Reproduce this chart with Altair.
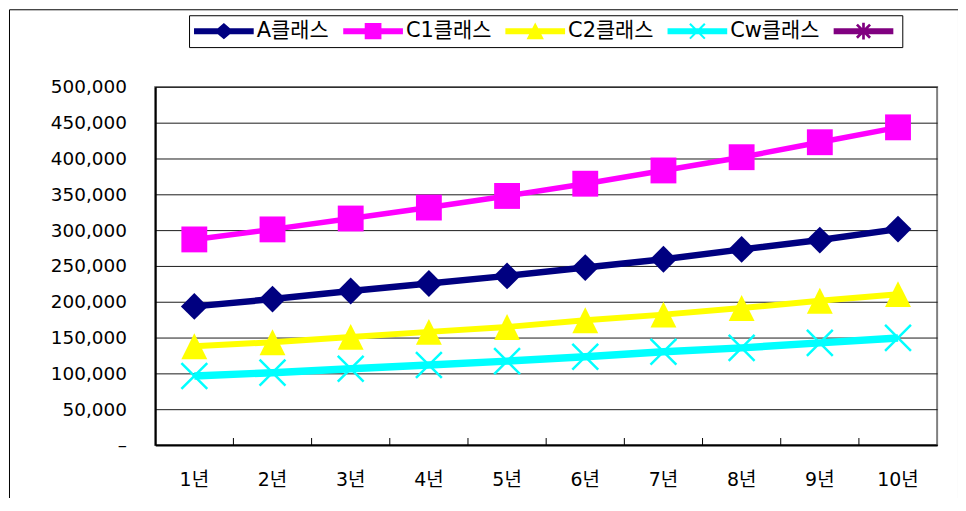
import altair as alt
import pandas as pd

# ---- data ----
years = ["1년", "2년", "3년", "4년", "5년", "6년", "7년", "8년", "9년", "10년"]
series_names = ["A클래스", "C1클래스", "C2클래스", "Cw클래스", "계열5"]
a_class = [193500, 203700, 215000, 225400, 236100, 247700, 259300, 273100, 286100, 301400]
c1_class = [287000, 301000, 316200, 331500, 347700, 364800, 383300, 401800, 422700, 443500]
c2_class = [137900, 143500, 150900, 157900, 164800, 174100, 182000, 191200, 201400, 210600]
cw_class = [96300, 101000, 106500, 111600, 117100, 123200, 130100, 135600, 142600, 149500]
y_ticks = [0, 50000, 100000, 150000, 200000, 250000, 300000, 350000, 400000, 450000, 500000]

values = {"A클래스": a_class, "C1클래스": c1_class, "C2클래스": c2_class, "Cw클래스": cw_class}
rows = []
for name, vals in values.items():
    for yr, v in zip(years, vals):
        rows.append({"year": yr, "series": name, "value": v})
df = pd.DataFrame(rows)

# ---- styling ----
colors = ["#000080", "#FF00FF", "#FFFF00", "#00FFFF", "#800080"]
line_widths = {"A클래스": 6.5, "C1클래스": 5.5, "C2클래스": 6, "Cw클래스": 7.5}
W, H = 786, 360
STEP = W / len(years)
FONT = "DejaVu Sans, Noto Sans CJK KR"

def rect(x0, y0, x1, y1):
    return f"M{x0},{y0}L{x1},{y0}L{x1},{y1}L{x0},{y1}Z"

def xarms(e, d):
    c = 0.70710678
    L = e / c
    p, m = c * (L + d), c * (L - d)
    a1 = f"M{-m:.3f},{-p:.3f}L{p:.3f},{m:.3f}L{m:.3f},{p:.3f}L{-p:.3f},{-m:.3f}Z"
    a2 = f"M{-p:.3f},{m:.3f}L{m:.3f},{-p:.3f}L{p:.3f},{-m:.3f}L{-m:.3f},{p:.3f}Z"
    return a1 + a2

base_line = rect(-1, -0.1, 1, 0.1)
legend_paths = [
    base_line + "M0,-0.27L0.32,0L0,0.27L-0.32,0Z",
    base_line + rect(-0.28, -0.27, 0.28, 0.27),
    base_line + "M0,-0.29L0.29,0.27L-0.29,0.27Z",
    base_line + xarms(0.25, 0.035),
    base_line + xarms(0.22, 0.045) + rect(-0.045, -0.28, 0.045, 0.28),
]

x_axis = alt.Axis(title=None, labelAngle=0, ticks=False, tickSize=0,
                  domainColor="#000", domainWidth=2, labelPadding=26,
                  labelFont=FONT, labelFontSize=19, labelColor="#000")
x_scale = alt.Scale(type="band", paddingInner=0, paddingOuter=0)
x_enc = alt.X("year:N", sort=years, scale=x_scale, axis=x_axis)
y_enc = alt.Y("value:Q",
              scale=alt.Scale(domain=[0, 500000], nice=False),
              axis=alt.Axis(title=None, values=y_ticks, ticks=False, tickSize=0,
                            domainColor="#000", domainWidth=2, labelPadding=29,
                            grid=True, gridColor="#1a1a1a", gridWidth=1,
                            labelFont="DejaVu Sans", labelFontSize=18.5, labelColor="#000",
                            labelExpr="datum.value == 0 ? '–' : format(datum.value, ',')"))

base = alt.Chart(df)

layers = []
for name in series_names[:4]:
    i = series_names.index(name)
    layers.append(base.transform_filter(alt.datum.series == name).mark_line(
        color=colors[i], strokeWidth=line_widths[name], strokeJoin="round").encode(x=x_enc, y=y_enc))

marker_specs = {
    "A클래스": dict(shape="diamond", size=729, filled=True),
    "C1클래스": dict(shape="square", size=676, filled=True),
    "C2클래스": dict(shape="M0,-1L1,1L-1,1Z", size=676, filled=True),
    "Cw클래스": dict(shape="M-1,-1L1,1M-1,1L1,-1", size=676, filled=False, strokeWidth=2.5),
}
for name in series_names[:4]:
    i = series_names.index(name)
    spec = marker_specs[name]
    layers.append(base.transform_filter(alt.datum.series == name).mark_point(
        color=colors[i], opacity=1, **spec).encode(x=x_enc, y=y_enc))

# inward category ticks on the x axis (at boundaries between categories)
ticks = alt.Chart(pd.DataFrame({"year": years[1:]})).mark_rule(
    color="#000", strokeWidth=1, xOffset=-STEP / 2).encode(
    x=x_enc, y=alt.value(H - 7), y2=alt.value(H))
layers.append(ticks)

# legend carrier layer (no visible marks: data filtered out)
legend_layer = base.transform_filter("false").mark_point(filled=True, opacity=1).encode(
    x=x_enc, y=y_enc,
    color=alt.Color("series:N", scale=alt.Scale(domain=series_names, range=colors),
                    legend=alt.Legend(title=None, orient="none", legendX=39, legendY=-86,
                                      direction="horizontal", columns=5,
                                      symbolSize=3600, symbolStrokeWidth=0, symbolOpacity=1,
                                      labelFont=FONT, labelFontSize=21, labelColor="#000",
                                      labelOffset=3, columnPadding=14, padding=0,
                                      labelLimit=200,
                                      labelExpr="datum.label == '계열5' ? '' : datum.label")),
    shape=alt.Shape("series:N", scale=alt.Scale(domain=series_names, range=legend_paths)),
)
layers.append(legend_layer)

one = pd.DataFrame({"k": [0]})
legend_box = alt.Chart(one).mark_rect(fill=None, stroke="#000", strokeWidth=1).encode(
    x=alt.value(34.5), x2=alt.value(751.5), y=alt.value(-71.5), y2=alt.value(-39.5))
outer_frame = alt.Chart(one).mark_rect(fill=None, stroke="#000", strokeWidth=1).encode(
    x=alt.value(-146.5), x2=alt.value(807.5), y=alt.value(-77.5), y2=alt.value(430))
layers += [legend_box, outer_frame]

chart = alt.layer(*layers).properties(
    width=W, height=H,
    autosize=alt.AutoSizeParams(type="none"),
    padding={"left": 148, "top": 78, "right": 21, "bottom": 52},
    background="#ffffff",
).configure_view(stroke="#808080", strokeWidth=2)

chart.save("out.html", embed_options={"renderer": "svg", "actions": False})
